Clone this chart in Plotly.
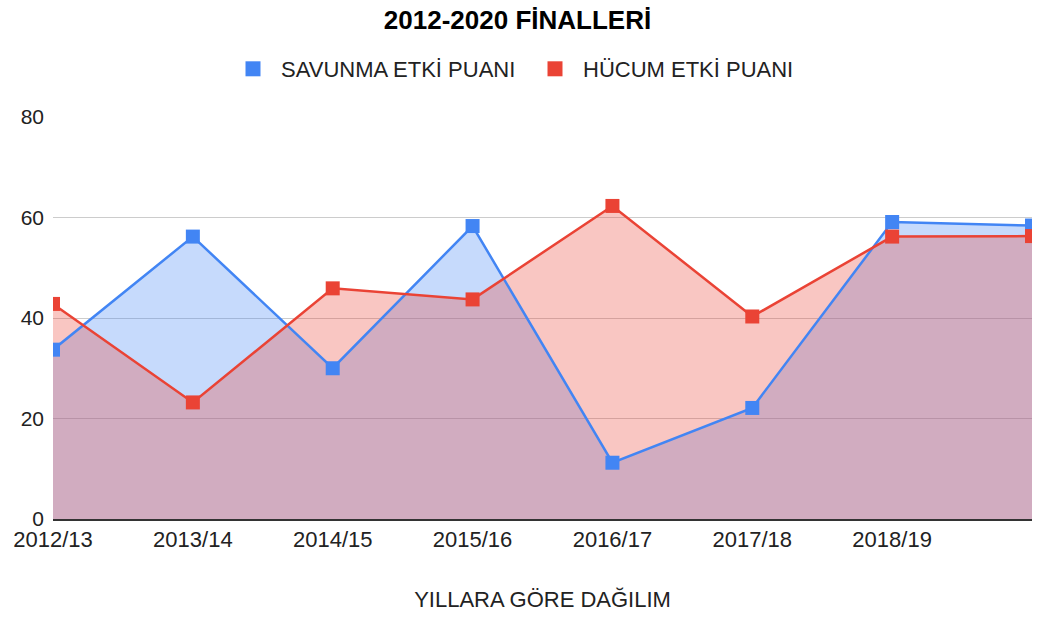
import plotly.graph_objects as go

seasons = ["2012/13", "2013/14", "2014/15", "2015/16", "2016/17", "2017/18", "2018/19", "2019/20"]
savunma = [33.7, 56.2, 30.0, 58.3, 11.2, 22.1, 59.1, 58.4]
hucum = [42.8, 23.2, 45.9, 43.7, 62.3, 40.3, 56.2, 56.3]
labeled_seasons = seasons[:7]
yticks = [0, 20, 40, 60, 80]

BLUE = "#4285F4"
RED = "#EA4335"
FONT = "Liberation Sans, Arial, sans-serif"

W, H = 1038, 619

fig = go.Figure()
# area fills (drawn first, below lines)
fig.add_trace(go.Scatter(x=seasons, y=savunma, mode="none", fill="tozeroy",
                         fillcolor="rgba(66,133,244,0.30)", showlegend=False, hoverinfo="skip"))
fig.add_trace(go.Scatter(x=seasons, y=hucum, mode="none", fill="tozeroy",
                         fillcolor="rgba(234,67,53,0.30)", showlegend=False, hoverinfo="skip"))
# lines + markers
fig.add_trace(go.Scatter(
    x=seasons, y=savunma, mode="lines+markers", name="SAVUNMA ETKİ PUANI",
    line=dict(color=BLUE, width=2.5), marker=dict(symbol="square", size=14, color=BLUE),
    showlegend=False))
fig.add_trace(go.Scatter(
    x=seasons, y=hucum, mode="lines+markers", name="HÜCUM ETKİ PUANI",
    line=dict(color=RED, width=2.5), marker=dict(symbol="square", size=14, color=RED),
    showlegend=False))
# legend entries (square swatches)
fig.add_trace(go.Scatter(x=[None], y=[None], mode="markers", name="SAVUNMA ETKİ PUANI",
                         marker=dict(symbol="square", size=15, color=BLUE)))
fig.add_trace(go.Scatter(x=[None], y=[None], mode="markers", name="HÜCUM ETKİ PUANI",
                         marker=dict(symbol="square", size=15, color=RED)))

fig.update_layout(
    width=W, height=H,
    margin=dict(l=53, r=6, t=117, b=100, autoexpand=False),
    paper_bgcolor="white", plot_bgcolor="white",
    font=dict(family=FONT, size=22, color="#222222"),
    title=dict(text="<b>2012-2020 FİNALLERİ</b>", x=517.5 / W, xref="container", xanchor="center",
               y=1 - 20 / H, yanchor="middle", pad=dict(t=0, b=0),
               font=dict(size=26, color="#000000")),
    legend=dict(orientation="h", x=0.5 + 8 / W, xref="container", xanchor="center",
                y=1 - 69 / H, yref="container",
                yanchor="middle", font=dict(size=22, color="#222222"), itemwidth=46,
                entrywidth=241, traceorder="normal"),
    xaxis=dict(type="category", categoryorder="array", categoryarray=seasons,
               range=[0, 7], tickmode="array", tickvals=labeled_seasons, ticktext=labeled_seasons,
               showgrid=False, showline=True, linecolor="#333333", linewidth=1.5, ticks="",
               automargin=False, tickfont=dict(size=22, color="#222222"),
               title=dict(text="YILLARA GÖRE DAĞILIM", font=dict(size=22, color="#222222"), standoff=40),
               layer="above traces"),
    yaxis=dict(range=[0, 80], tickmode="array", tickvals=yticks, showgrid=True,
               gridcolor="#cccccc", gridwidth=1, zeroline=False, showline=False, ticks="",
               automargin=False, ticklabelstandoff=8, tickfont=dict(size=21, color="#222222")),
)

# remove the browser's default 8px body margin so the figure fills the window exactly
fig.write_html("out.html", config={"displayModeBar": False},
               post_script="document.body.style.margin='0';")
